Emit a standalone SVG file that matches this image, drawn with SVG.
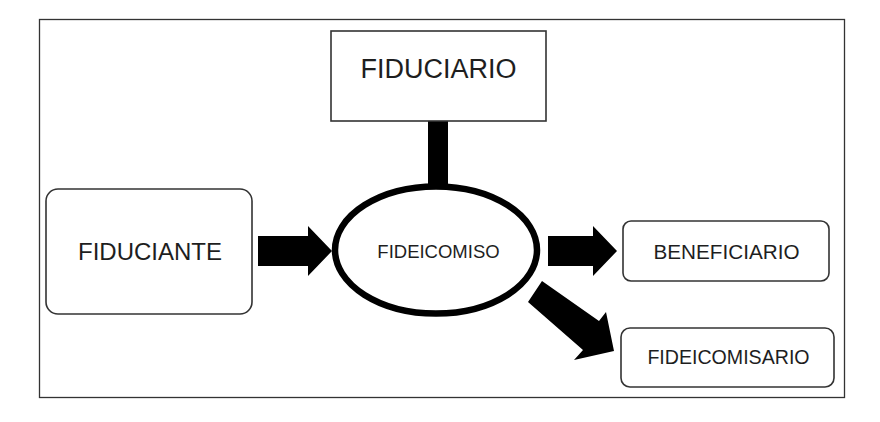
<svg xmlns="http://www.w3.org/2000/svg" width="880" height="422" viewBox="0 0 880 422">
<style>
.box{fill:#fff;stroke:#333;stroke-width:1.6}
.lbl{font-family:"Liberation Sans",Arial,sans-serif;fill:#1e1e1e;text-anchor:middle}
.arr{fill:#000}
</style>
<rect x="0" y="0" width="880" height="422" fill="#fff"/>
<rect id="frame" x="39.5" y="19.5" width="805" height="378" fill="#fff" stroke="#333" stroke-width="1.3"/>
<g id="connectors">
<rect class="arr" x="428" y="120" width="20" height="68"/>
<polygon class="arr" points="258,236 308,236 308,226 332,251 308,276 308,266 258,266"/>
<polygon class="arr" points="548,236 593,236 593,226 617,251 593,276 593,266 548,266"/>
<polygon class="arr" points="528,302 542,281 599,321 606,312 614,351 574,360 583,350"/>
</g>
<g id="fiduciario">
<rect class="box" x="331" y="31" width="215" height="90"/>
<text class="lbl" x="438.5" y="78" font-size="27">FIDUCIARIO</text>
</g>
<g id="fideicomiso">
<ellipse cx="436" cy="250" rx="101" ry="63.5" fill="#fff" stroke="#000" stroke-width="6.5"/>
<text class="lbl" x="438.5" y="257.5" font-size="18.5">FIDEICOMISO</text>
</g>
<g id="fiduciante">
<rect class="box" x="46" y="189" width="206" height="125" rx="12"/>
<text class="lbl" x="150" y="260" font-size="24">FIDUCIANTE</text>
</g>
<g id="beneficiario">
<rect class="box" x="623" y="221" width="206" height="60" rx="8"/>
<text class="lbl" x="726.5" y="259" font-size="20.7">BENEFICIARIO</text>
</g>
<g id="fideicomisario">
<rect class="box" x="621" y="328" width="213" height="59" rx="9"/>
<text class="lbl" x="728.5" y="363.5" font-size="19.6">FIDEICOMISARIO</text>
</g>
</svg>
